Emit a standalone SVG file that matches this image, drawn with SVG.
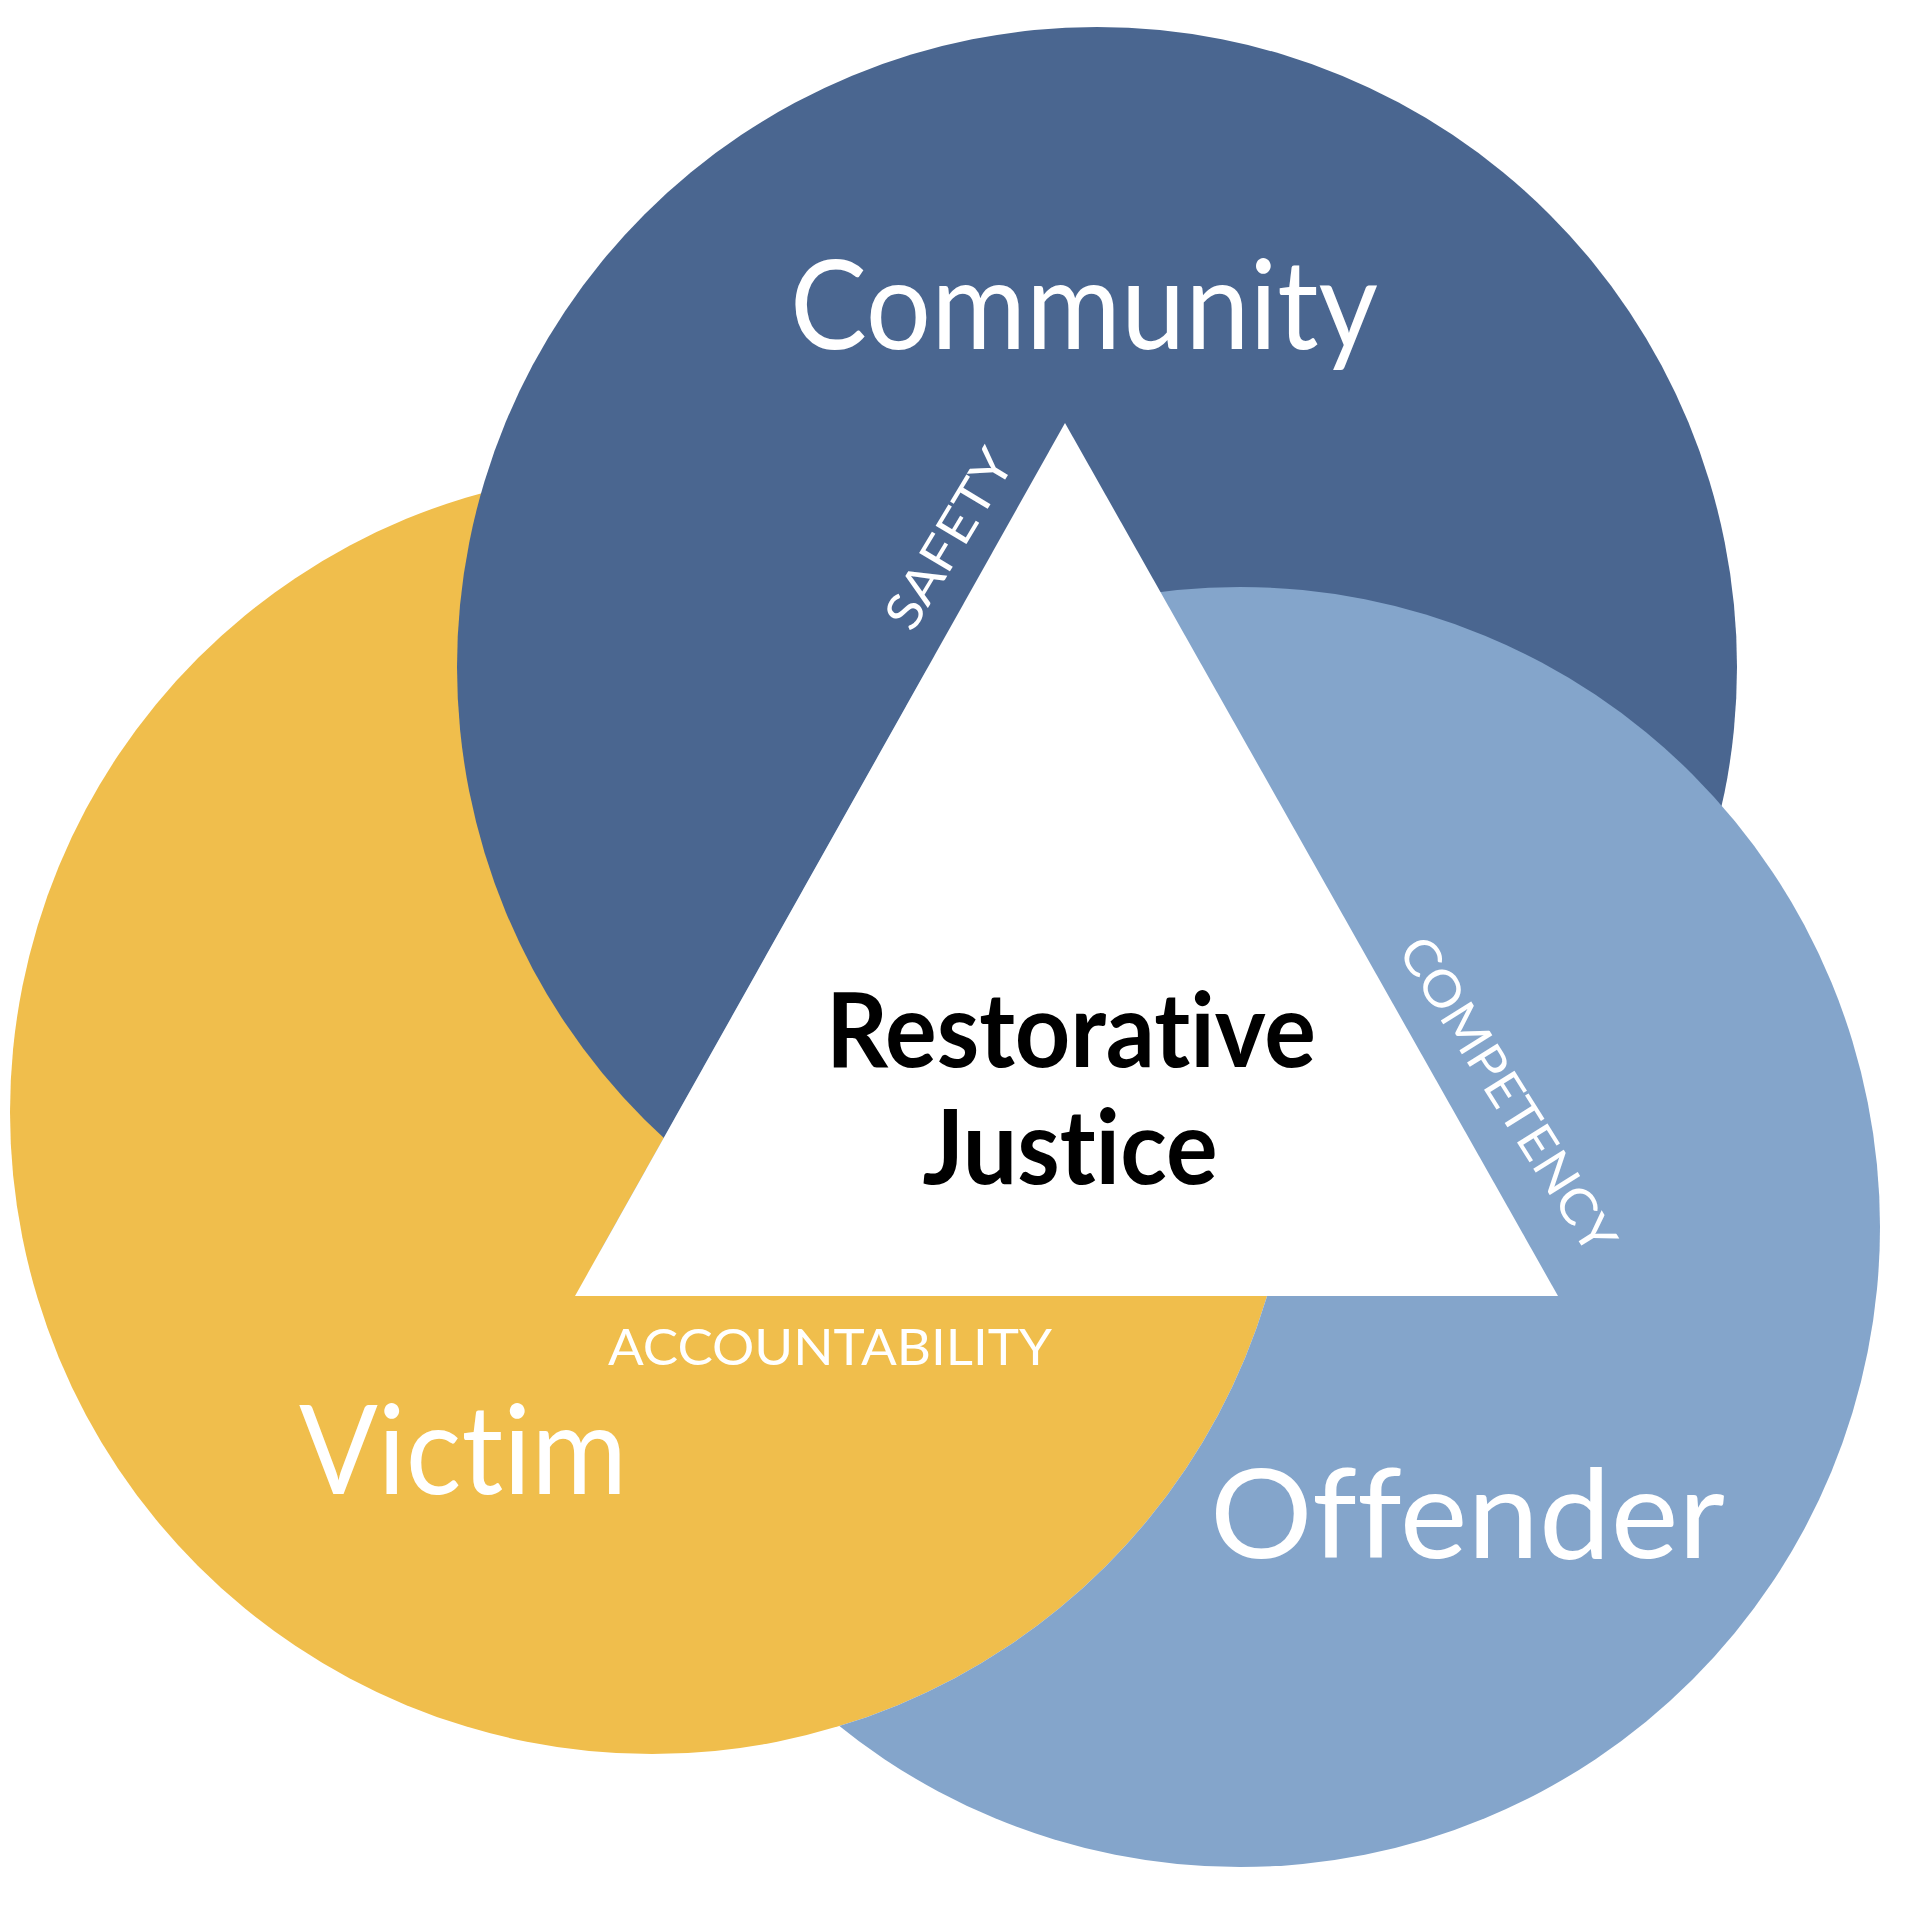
<svg xmlns="http://www.w3.org/2000/svg" width="1920" height="1920" viewBox="0 0 1920 1920">
<style>
text{font-variant-ligatures:none;font-feature-settings:"liga" 0,"clig" 0;}
.lbl{font-family:Lato,"Noto Sans","Liberation Sans",sans-serif;fill:#ffffff;}
.big{font-size:124px;font-weight:400;}
.small{font-size:50px;font-weight:400;}
.center{font-family:Lato,"Noto Sans","Liberation Sans",sans-serif;font-size:103px;font-weight:700;fill:#000000;text-anchor:middle;}
</style>
<defs>
<clipPath id="aboveBase"><rect x="0" y="0" width="1920" height="1296"/></clipPath>
<mask id="lightMask" maskUnits="userSpaceOnUse" x="0" y="0" width="1920" height="1920">
<polygon points="1359,-100 2100,-100 2100,2100 124,2100" fill="#ffffff"/>
<circle cx="652" cy="1112" r="642" fill="#000000"/>
<polygon points="1359,-100 2100,-100 2100,1296 575,1296" fill="#ffffff"/>
</mask>
</defs>
<rect width="1920" height="1920" fill="#ffffff"/>
<g id="victim-circle"><circle cx="652" cy="1112" r="642" fill="#f0be4c"/></g>
<g id="community-circle" clip-path="url(#aboveBase)"><circle cx="1097" cy="667" r="640" fill="#4a6690"/></g>
<g id="offender-circle" mask="url(#lightMask)"><circle cx="1240" cy="1227" r="640" fill="#84a5cb"/></g>
<g id="restorative-justice">
<polygon points="1065,423 1558,1296 575,1296" fill="#ffffff"/>
<text class="center" x="1071" y="1067" textLength="490" lengthAdjust="spacingAndGlyphs">Restorative</text>
<text class="center" x="1070" y="1184" textLength="295" lengthAdjust="spacingAndGlyphs">Justice</text>
</g>
<g id="community"><text class="lbl big" x="790" y="349" font-size="128" textLength="588" lengthAdjust="spacingAndGlyphs">Community</text></g>
<g id="victim"><text class="lbl big" x="299" y="1494" font-size="118" textLength="328" lengthAdjust="spacingAndGlyphs">Victim</text></g>
<g id="offender"><text class="lbl big" x="1210" y="1558" textLength="515" lengthAdjust="spacingAndGlyphs">Offender</text></g>
<g id="edge-labels">
<text class="lbl small" transform="translate(964,548) rotate(-59)" text-anchor="middle" textLength="200" lengthAdjust="spacingAndGlyphs">SAFETY</text>
<text class="lbl small" transform="translate(1493,1104) rotate(58)" text-anchor="middle" textLength="362" lengthAdjust="spacingAndGlyphs">COMPETENCY</text>
<text class="lbl small" x="608" y="1365" font-size="55" textLength="444" lengthAdjust="spacingAndGlyphs">ACCOUNTABILITY</text>
</g>
</svg>
